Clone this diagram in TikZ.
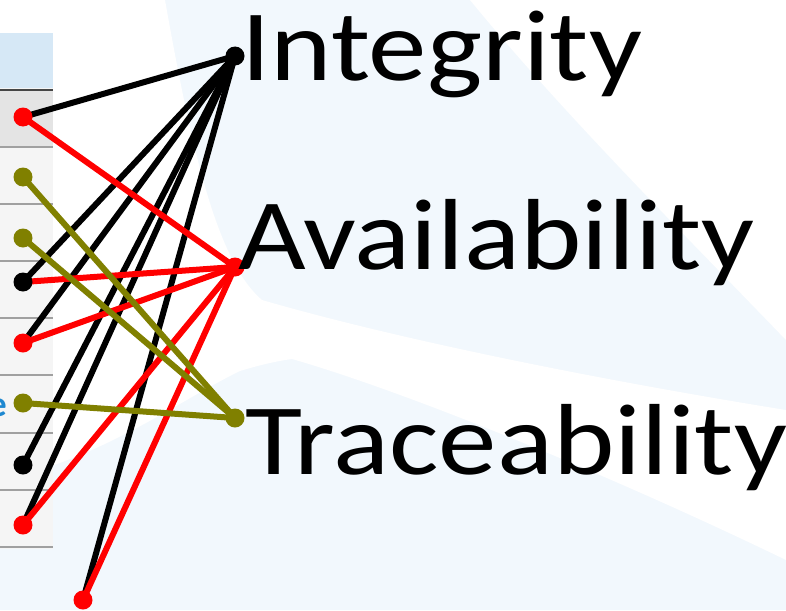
\documentclass[tikz,border=0pt]{standalone}
\usepackage{fontspec}
\setmainfont{Carlito}
\pgfdeclarelayer{bg}
\pgfdeclarelayer{lines}
\pgfsetlayers{bg,lines,main}
\definecolor{lblue}{RGB}{242,248,253}
\definecolor{olivec}{RGB}{128,128,0}
\definecolor{hdrblue}{RGB}{214,232,246}
\definecolor{rowgray}{RGB}{228,228,228}
\definecolor{rowlight}{RGB}{245,245,245}
\definecolor{rulegray}{RGB}{160,160,160}
\definecolor{ruledark}{RGB}{70,70,70}
\definecolor{eblue}{RGB}{30,136,208}
\begin{document}
\begin{tikzpicture}[x=1pt,y=-1pt,
  dot/.style={circle,inner sep=0pt,minimum size=19pt,fill=#1},
  lbl/.style={anchor=base west,inner sep=0pt,font=\fontsize{101}{110}\selectfont,xscale=1.158,transform shape},
  link/.style={line width=6pt,draw=#1},
  rowrule/.style={line width=2pt,draw=rulegray}]
\useasboundingbox (0,0) rectangle (786,610);
% background
\begin{pgfonlayer}{bg}
\fill[lblue] (0,0) rectangle (786,610);
\fill[white] (0,0) -- (165,0) .. controls (190,140) and (215,260) .. (262,300)
  .. controls (400,340) and (600,380) .. (786,410) -- (786,560)
  .. controls (600,470) and (400,390) .. (292,359)
  .. controls (270,362) and (250,368) .. (240,371)
  .. controls (180,400) and (100,460) .. (0,480) -- cycle;
\fill[white] (470,0) -- (786,0) -- (786,340) .. controls (680,230) and (560,110) .. (470,0) -- cycle;
% table fragment
\fill[rowlight] (0,88) rectangle (53,549);
\fill[hdrblue] (0,33) rectangle (53,88);
\fill[rowgray] (0,91) rectangle (53,146);
\draw[line width=2.5pt,draw=ruledark] (0,90) -- (53,90);
\foreach \yy in {147,204,261,318,375,433,490,547} \draw[rowrule] (0,\yy) -- (53,\yy);
\node[anchor=base east,inner sep=0pt,text=eblue,font=\bfseries\fontsize{36}{40}\selectfont] (efrag) at (7,416) {e};
\end{pgfonlayer}
% hubs
\node[dot=black] (hI) at (235,56) {};
\node[dot=red] (hA) at (235,267) {};
\node[dot=olivec] (hT) at (235,418) {};
% left dots
\node[dot=red] (d1) at (23,117) {};
\node[dot=olivec] (d2) at (23,177) {};
\node[dot=olivec] (d3) at (23,238) {};
\node[dot=black] (d4) at (23,282) {};
\node[dot=red] (d5) at (23,343) {};
\node[dot=olivec] (d6) at (23,403) {};
\node[dot=black] (d7) at (23,465) {};
\node[dot=red] (d8) at (23,525) {};
\node[dot=red] (d9) at (83,600) {};
% labels
\node[lbl] (tI) at (241,80) {Integrity};
\node[lbl] (tA) at (238,269) {Availability};
\node[lbl] (tT) at (245,474) {Traceability};
% connectors
\begin{pgfonlayer}{lines}
\foreach \d in {d1,d4,d5,d7,d8,d9} \draw[link=black] (\d.center) -- (hI.center);
\foreach \d in {d1,d4,d5,d8,d9} \draw[link=red] (\d.center) -- (hA.center);
\foreach \d in {d2,d3,d6} \draw[link=olivec] (\d.center) -- (hT.center);
\end{pgfonlayer}
\end{tikzpicture}
\end{document}
